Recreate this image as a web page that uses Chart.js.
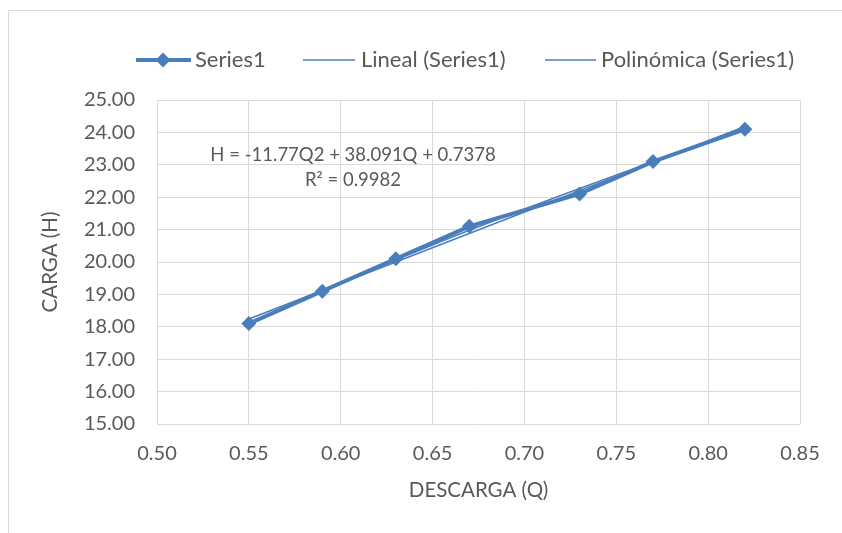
<!DOCTYPE html>
<html>
<head>
<meta charset="utf-8">
<script src="https://cdn.jsdelivr.net/npm/chart.js@4/dist/chart.umd.min.js"></script>
<style>
  html, body { margin: 0; padding: 0; background: #fff; }
  #wrap { width: 842px; height: 533px; position: relative; }
</style>
</head>
<body>
<div id="wrap"><canvas id="chart" width="842" height="533"></canvas></div>
<script>
// data
const descarga = [0.55, 0.59, 0.63, 0.67, 0.73, 0.77, 0.82];
const carga = [18.1, 19.1, 20.1, 21.1, 22.1, 23.1, 24.1];
// trendlines (Excel)
const linealQ = [0.55, 0.82];
const linealH = [18.24, 24.18];
const poliQ = [0.55, 0.59, 0.63, 0.67, 0.73, 0.77, 0.82];
const poliH = [18.13, 19.11, 20.06, 20.98, 22.27, 23.09, 24.06];
const ecuacion = ["H = -11.77Q2 + 38.091Q + 0.7378", "R² = 0.9982"];
const legendNames = ["Series1", "Lineal (Series1)", "Polinómica (Series1)"];

const blue = "#4a7ebb";
const txt = "#595959";
const fontFam = "Lato, 'Open Sans', sans-serif";

const toPts = (xs, ys) => xs.map((x, i) => ({ x: x, y: ys[i] }));

// legend + equation + outer frame
const extras = {
    id: "extras",
    afterDraw(chart) {
        const ctx = chart.ctx;
        ctx.save();

        // frame
        ctx.strokeStyle = "#d9d9d9";
        ctx.lineWidth = 1;
        ctx.beginPath();
        ctx.moveTo(8.5, 533);
        ctx.lineTo(8.5, 10.5);
        ctx.lineTo(842, 10.5);
        ctx.stroke();

        ctx.font = "22px " + fontFam;
        ctx.fillStyle = txt;
        ctx.textBaseline = "middle";
        ctx.textAlign = "left";
        const ly = 60;

        // Series1
        ctx.strokeStyle = blue;
        ctx.lineWidth = 4;
        ctx.beginPath(); ctx.moveTo(136, ly); ctx.lineTo(191, ly); ctx.stroke();
        ctx.fillStyle = blue;
        ctx.beginPath();
        ctx.moveTo(163, ly - 7.5); ctx.lineTo(170.5, ly); ctx.lineTo(163, ly + 7.5); ctx.lineTo(155.5, ly);
        ctx.closePath(); ctx.fill();
        ctx.fillStyle = txt;
        ctx.fillText(legendNames[0], 195, ly);

        // Lineal
        ctx.lineWidth = 1.5;
        ctx.beginPath(); ctx.moveTo(303, ly); ctx.lineTo(355, ly); ctx.stroke();
        ctx.fillText(legendNames[1], 361, ly);

        // Polinomica
        ctx.beginPath(); ctx.moveTo(545, ly); ctx.lineTo(596, ly); ctx.stroke();
        ctx.fillText(legendNames[2], 601, ly);

        // equation
        ctx.font = "18.5px " + fontFam;
        ctx.textAlign = "center";
        ctx.fillText(ecuacion[0], 353, 155);
        ctx.fillText(ecuacion[1], 353, 180);

        ctx.restore();
    }
};

new Chart(document.getElementById("chart"), {
    type: "scatter",
    data: {
        datasets: [
            {
                label: "Polinómica (Series1)",
                data: toPts(poliQ, poliH),
                showLine: true,
                borderColor: blue,
                borderWidth: 1.5,
                pointRadius: 0,
                tension: 0.4,
                order: 3
            },
            {
                label: "Lineal (Series1)",
                data: toPts(linealQ, linealH),
                showLine: true,
                borderColor: blue,
                borderWidth: 1.5,
                pointRadius: 0,
                order: 2
            },
            {
                label: "Series1",
                data: toPts(descarga, carga),
                showLine: true,
                borderColor: blue,
                backgroundColor: blue,
                borderWidth: 4,
                pointStyle: "rectRot",
                pointRadius: 7.5,
                pointBorderWidth: 0,
                order: 1
            }
        ]
    },
    options: {
        responsive: false,
        animation: false,
        layout: { padding: { left: 8, right: 42, top: 100, bottom: 30 } },
        plugins: {
            legend: { display: false },
            tooltip: { enabled: false }
        },
        scales: {
            x: {
                type: "linear",
                min: 0.5,
                max: 0.85,
                afterFit: s => { s.height = 79; },
                ticks: {
                    stepSize: 0.05,
                    padding: 18,
                    color: txt,
                    font: { family: fontFam, size: 20 },
                    callback: v => v.toFixed(2)
                },
                grid: { color: "#d9d9d9", drawTicks: false },
                border: { display: false },
                title: {
                    display: true,
                    text: "DESCARGA (Q)",
                    color: txt,
                    font: { family: fontFam, size: 20.5 },
                    padding: 0
                }
            },
            y: {
                min: 15,
                max: 25,
                afterFit: s => { s.width = 149; },
                ticks: {
                    stepSize: 1,
                    padding: 22,
                    color: txt,
                    font: { family: fontFam, size: 20 },
                    callback: v => v.toFixed(2)
                },
                grid: { color: "#d9d9d9", drawTicks: false },
                border: { display: false },
                title: {
                    display: true,
                    text: "CARGA (H)",
                    color: txt,
                    font: { family: fontFam, size: 20.5 },
                    padding: { top: 30, bottom: 0 }
                }
            }
        }
    },
    plugins: [extras]
});
</script>
</body>
</html>
